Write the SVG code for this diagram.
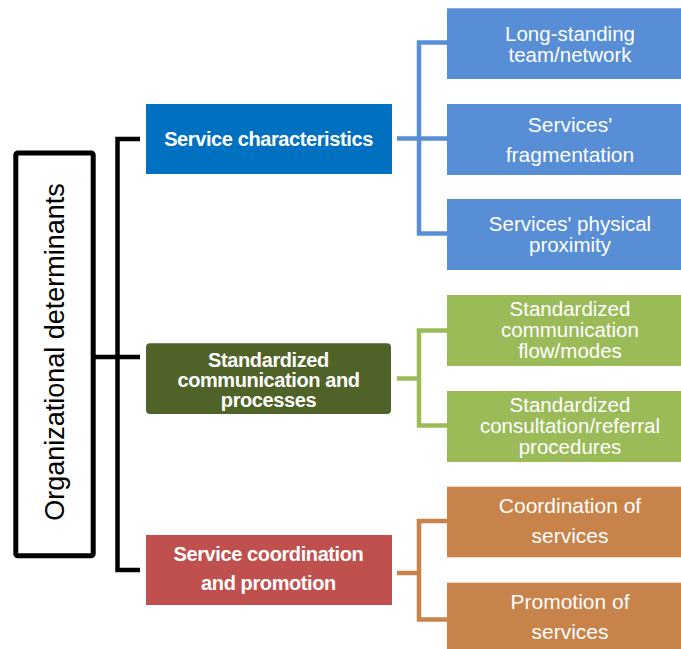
<svg xmlns="http://www.w3.org/2000/svg" width="681" height="649" viewBox="0 0 681 649">
  <style>
    .t1 { font-family: "Liberation Sans", Arial, sans-serif; font-size: 20px; font-weight: bold; fill: #ffffff; text-anchor: middle; letter-spacing: -0.4px; }
    .t2 { font-family: "Liberation Sans", Arial, sans-serif; font-size: 21px; fill: #ffffff; text-anchor: middle; }
    .t2s { font-family: "Liberation Sans", Arial, sans-serif; font-size: 20.5px; fill: #ffffff; text-anchor: middle; }
    .root { font-family: "Liberation Sans", Arial, sans-serif; font-size: 27px; fill: #000000; text-anchor: middle; }
    .wire { fill: none; stroke-width: 4.5; stroke-linejoin: miter; }
    .blue2 { fill: #578ED6; }
    .green2 { fill: #9BBB59; }
    .orange2 { fill: #C8834A; }
  </style>
  <rect width="681" height="649" fill="#ffffff"/>

  <g id="connectors">
    <!-- main bracket from the root box -->
    <path class="wire" stroke="#000000" stroke-width="5" d="M140 139 H117.5 V570 H140"/>
    <path class="wire" stroke="#000000" stroke-width="5" d="M95 357 H140"/>
    <!-- service characteristics bracket -->
    <path class="wire" stroke="#578ED6" d="M447 42.5 H419 V233.5 H447"/>
    <path class="wire" stroke="#578ED6" d="M397 138.5 H447"/>
    <!-- standardized communication bracket -->
    <path class="wire" stroke="#9BBB59" d="M447 330.5 H419 V425.5 H447"/>
    <path class="wire" stroke="#9BBB59" d="M397 378.5 H419"/>
    <!-- coordination and promotion bracket -->
    <path class="wire" stroke="#C8834A" d="M447 521 H419 V619.5 H447"/>
    <path class="wire" stroke="#C8834A" d="M397 573 H419"/>
  </g>

  <g id="root">
    <rect x="15.8" y="153" width="77.4" height="402.8" rx="2" fill="#ffffff" stroke="#000000" stroke-width="5"/>
    <text class="root" transform="translate(63.5 352) rotate(-90)">Organizational determinants</text>
  </g>

  <g id="service-characteristics">
    <rect x="146" y="104" width="246" height="70" fill="#0070C0"/>
    <text class="t1" x="268.5" y="146">Service characteristics</text>
  </g>

  <g id="standardized-communication">
    <rect x="146" y="343.3" width="245" height="70.7" rx="4" fill="#4F6228"/>
    <text class="t1" x="268.5" y="366.5">Standardized</text>
    <text class="t1" x="268.5" y="386.5">communication and</text>
    <text class="t1" x="268.5" y="406.5">processes</text>
  </g>

  <g id="service-coordination">
    <rect x="146" y="535" width="246" height="70" fill="#C0504D"/>
    <text class="t1" x="268.5" y="561">Service coordination</text>
    <text class="t1" x="268.5" y="590">and promotion</text>
  </g>

  <g id="long-standing-team">
    <rect class="blue2" x="447" y="8.3" width="246" height="70.7"/>
    <text class="t2s" x="570" y="41.2">Long-standing</text>
    <text class="t2s" x="570" y="62.2">team/network</text>
  </g>

  <g id="services-fragmentation">
    <rect class="blue2" x="447" y="104" width="246" height="71"/>
    <text class="t2" x="570" y="132">Services'</text>
    <text class="t2" x="570" y="162">fragmentation</text>
  </g>

  <g id="services-proximity">
    <rect class="blue2" x="447" y="199" width="246" height="71"/>
    <text class="t2s" x="570" y="230.5">Services' physical</text>
    <text class="t2s" x="570" y="251.5">proximity</text>
  </g>

  <g id="communication-flow">
    <rect class="green2" x="447" y="295" width="246" height="71"/>
    <text class="t2s" x="570" y="316">Standardized</text>
    <text class="t2s" x="570" y="337">communication</text>
    <text class="t2s" x="570" y="358">flow/modes</text>
  </g>

  <g id="referral-procedures">
    <rect class="green2" x="447" y="391" width="246" height="71"/>
    <text class="t2s" x="570" y="412.3">Standardized</text>
    <text class="t2s" x="570" y="433.3">consultation/referral</text>
    <text class="t2s" x="570" y="454.3">procedures</text>
  </g>

  <g id="coordination-of-services">
    <rect class="orange2" x="447" y="486.7" width="246" height="70.6"/>
    <text class="t2" x="570" y="513.3">Coordination of</text>
    <text class="t2" x="570" y="543.3">services</text>
  </g>

  <g id="promotion-of-services">
    <rect class="orange2" x="447" y="582.7" width="246" height="71"/>
    <text class="t2" x="570" y="609.3">Promotion of</text>
    <text class="t2" x="570" y="639.3">services</text>
  </g>
</svg>
